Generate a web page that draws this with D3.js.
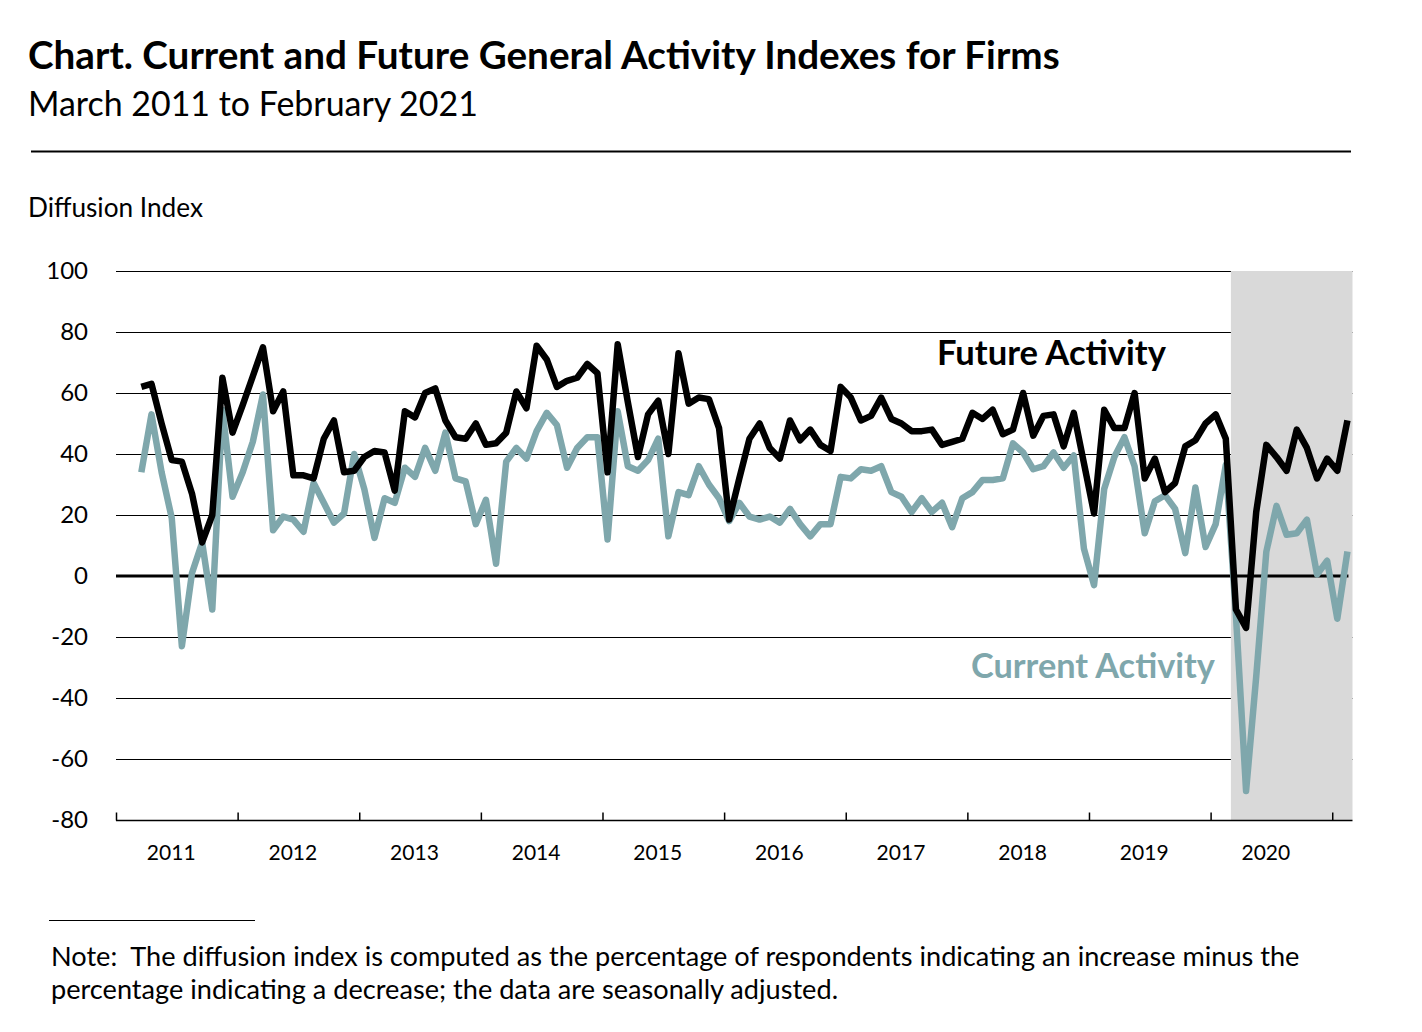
<!DOCTYPE html>
<html>
<head>
<meta charset="utf-8">
<script src="https://cdn.jsdelivr.net/npm/d3@7"></script>
<style>
  body { margin: 0; background: #fff; }
  text { font-family: Lato, "Open Sans", sans-serif; }
</style>
</head>
<body>
<div id="chart"></div>
<script>
'use strict';

// monthly values, March 2011 .. February 2021
const startMonth = 2; // months after Jan 2011
const futureActivity = [
  62, 63, 50, 38, 37.5, 27, 11, 20, 65, 47,
  56, 65.5, 75, 54, 60.5, 33, 33, 32, 45, 51, 34, 34.5,
  39, 41, 40.5, 28, 54, 52, 60, 61.5, 51, 45.5, 45, 50,
  43, 43.5, 47, 60.5, 55, 75.5, 71, 62, 64, 65, 69.5, 66.5,
  34, 76, 57, 39, 53, 57.5, 40, 73, 56.5, 58.5, 58, 48.5,
  18.5, 32, 45, 50, 42, 38.5, 51, 44.5, 48, 43, 41, 62,
  58.5, 51, 52.5, 58.5, 51.5, 50, 47.5, 47.5, 48, 43, 44, 45,
  53.5, 51.5, 54.5, 46.5, 48, 60, 46, 52.5, 53, 42.5, 53.5, 37,
  20.5, 54.5, 48.5, 48.5, 60, 32, 38.5, 27.5, 30.5, 42.5, 44.5, 50,
  53, 45, -11, -17, 21, 43, 39, 34.5, 48, 42, 32, 38.5,
  34.5, 51
];
const currentActivity = [
  34, 53, 34, 19, -23, 1, 11, -11, 54.5, 26,
  34, 44, 59.5, 15, 19.5, 18.5, 14.5, 30.5, 24, 17.5, 20.5, 40,
  28.5, 12.5, 25.5, 24, 35.5, 32.5, 42, 34.5, 47, 32, 31, 17,
  25, 4, 37.5, 42, 38.5, 47.5, 53.5, 49.5, 35.5, 42, 45.5, 45.5,
  12, 54, 36, 34.5, 38, 45, 13, 27.5, 26.5, 36, 30, 25.5,
  18, 24, 19.5, 18.5, 19.5, 17.5, 22, 17, 13, 17, 17, 32.5,
  32, 35, 34.5, 36, 27.5, 26, 21, 25.5, 21, 24, 16, 25.5,
  27.5, 31.5, 31.5, 32, 43.5, 40.5, 35, 36, 40.5, 35.5, 39.5, 9,
  -3, 28.5, 39, 45.5, 36, 14, 24.5, 26.5, 22, 7.5, 29, 9.5,
  17, 36.5, -13, -70.5, -33, 8, 23, 13.5, 14, 18.5, 0.5, 5,
  -14, 8
];
const years = [2011, 2012, 2013, 2014, 2015, 2016, 2017, 2018, 2019, 2020];
const yTicks = [100, 80, 60, 40, 20, 0, -20, -40, -60, -80];
const shadeFrom = 110; // March 2020, months after Jan 2011
const shadeTo = 122;

const W = 1422, H = 1032;
const svg = d3.select('#chart').append('svg').attr('width', W).attr('height', H);

const x = d3.scaleLinear().domain([0, 122]).range([116, 1352.5]);
const y = d3.scaleLinear().domain([-80, 100]).range([820, 271]);

// shrink or grow a text so it spans the given width
function fitWidth(sel, w) {
  const len = sel.node().getComputedTextLength();
  const fs = parseFloat(sel.attr('font-size'));
  sel.attr('font-size', (fs * w / len).toFixed(2));
  return fs * w / len;
}

// titles
fitWidth(svg.append('text').attr('x', 28).attr('y', 69).attr('font-size', 32)
  .attr('font-weight', 700).attr('fill', '#000')
  .text('Chart. Current and Future General Activity Indexes for Firms'), 1032);
fitWidth(svg.append('text').attr('x', 28).attr('y', 116).attr('font-size', 30)
  .attr('fill', '#000').text('March 2011 to February 2021'), 450);
svg.append('line').attr('x1', 31).attr('x2', 1351).attr('y1', 151.5).attr('y2', 151.5)
  .attr('stroke', '#000').attr('stroke-width', 2);
fitWidth(svg.append('text').attr('x', 28).attr('y', 217).attr('font-size', 23)
  .attr('fill', '#000').text('Diffusion Index'), 175);

// gridlines
svg.append('g').selectAll('line').data(yTicks.filter(d => d !== 0 && d !== -80)).enter()
  .append('line')
    .attr('x1', x(0)).attr('x2', x(122))
    .attr('y1', d => Math.round(y(d)) + 0.5).attr('y2', d => Math.round(y(d)) + 0.5)
    .attr('stroke', '#000').attr('stroke-width', 1.2);

// shaded period
svg.append('rect')
  .attr('x', x(shadeFrom)).attr('y', y(100))
  .attr('width', x(shadeTo) - x(shadeFrom)).attr('height', y(-80) - y(100))
  .attr('fill', '#d9d9d9');

// y labels
svg.append('g').selectAll('text').data(yTicks).enter()
  .append('text')
    .attr('x', 88).attr('y', d => y(d) + 8)
    .attr('text-anchor', 'end').attr('font-size', 24).attr('fill', '#000')
    .text(d => d);

// x axis with upward year ticks
const xAxis = d3.axisTop(x)
  .tickValues(d3.range(0, 121, 12))
  .tickSize(8).tickSizeOuter(0).tickFormat('');
const gx = svg.append('g').attr('transform', 'translate(0,820)').call(xAxis);
gx.select('.domain').attr('d', `M${x(0)},0.5H${x(122)}`).attr('stroke', '#000').attr('stroke-width', 1.5);
gx.selectAll('.tick line').attr('stroke', '#000').attr('stroke-width', 1.5)
  .attr('transform', 'translate(0,0.5)').attr('y2', -8);

svg.append('g').selectAll('text').data(years).enter()
  .append('text')
    .attr('x', (d, i) => x(i * 12 + 5.45)).attr('y', 860)
    .attr('text-anchor', 'middle').attr('font-size', 21).attr('fill', '#000')
    .text(d => d);

// zero line
svg.append('line')
  .attr('x1', x(0)).attr('x2', x(121.6))
  .attr('y1', y(0)).attr('y2', y(0))
  .attr('stroke', '#000').attr('stroke-width', 3);

// series
const line = d3.line()
  .x((d, i) => x(startMonth + i + 0.5))
  .y(d => y(d));

svg.append('path').datum(currentActivity)
  .attr('d', line).attr('fill', 'none')
  .attr('stroke', '#7fa7ac').attr('stroke-width', 6.5)
  .attr('stroke-linejoin', 'round');
svg.append('path').datum(futureActivity)
  .attr('d', line).attr('fill', 'none')
  .attr('stroke', '#000').attr('stroke-width', 6.5)
  .attr('stroke-linejoin', 'round');

// series labels
fitWidth(svg.append('text').attr('x', 937).attr('y', 365).attr('font-size', 32)
  .attr('font-weight', 700).attr('fill', '#000').text('Future Activity'), 229);
fitWidth(svg.append('text').attr('x', 971).attr('y', 678).attr('font-size', 32)
  .attr('font-weight', 700).attr('fill', '#7fa7ac').text('Current Activity'), 244);

// footnote
svg.append('line').attr('x1', 49).attr('x2', 255).attr('y1', 920.5).attr('y2', 920.5)
  .attr('stroke', '#000').attr('stroke-width', 1.2);
const note1 = svg.append('text').attr('x', 51).attr('y', 966).attr('font-size', 24)
  .attr('fill', '#000').attr('xml:space', 'preserve')
  .text('Note:  The diffusion index is computed as the percentage of respondents indicating an increase minus the');
const noteSize = fitWidth(note1, 1249);
svg.append('text').attr('x', 51).attr('y', 999).attr('font-size', noteSize.toFixed(2))
  .attr('fill', '#000')
  .text('percentage indicating a decrease; the data are seasonally adjusted.');
</script>
</body>
</html>
